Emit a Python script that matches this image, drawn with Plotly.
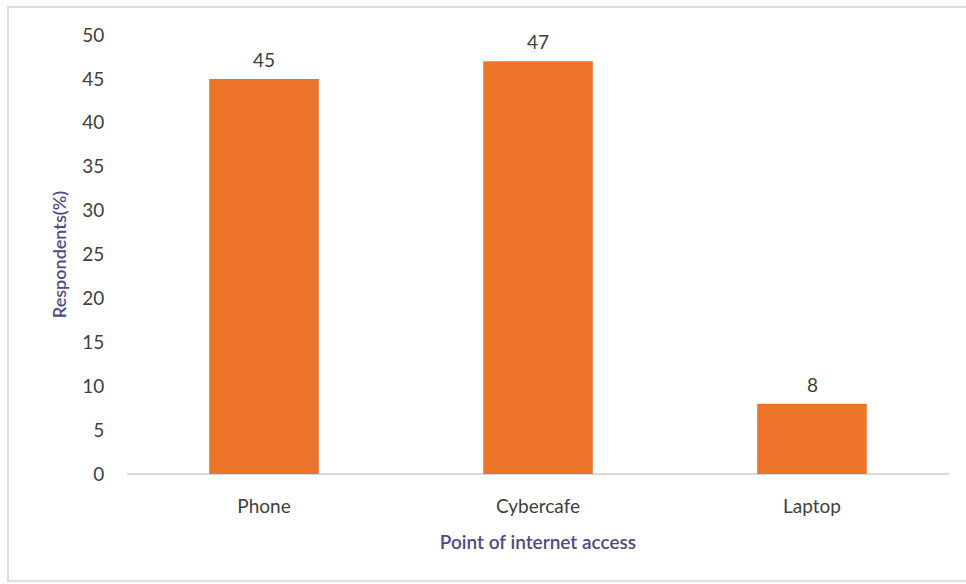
import plotly.graph_objects as go

categories = ["Phone", "Cybercafe", "Laptop"]
values = [45, 47, 8]
y_ticks = [0, 5, 10, 15, 20, 25, 30, 35, 40, 45, 50]

W, H = 966, 584
L, R, T, B = 127, 17, 35, 110
pw, ph = W - L - R, H - T - B

fig = go.Figure()
fig.add_trace(go.Bar(
    x=categories, y=values,
    marker=dict(color="#EC7429", line=dict(width=0)),
    cliponaxis=False,
    width=0.4,
))

annotations = [
    dict(x=c, y=v, xref="x", yref="y", text=str(v), showarrow=False,
         yanchor="bottom", yshift=6,
         font=dict(size=19, color="#404040", family="Lato"))
    for c, v in zip(categories, values)
]

fig.update_layout(
    width=W, height=H,
    margin=dict(l=L, r=R, t=T, b=B),
    paper_bgcolor="white", plot_bgcolor="white",
    font=dict(family="Lato", size=18, color="#333333"),
    showlegend=False,
    annotations=annotations,
    xaxis=dict(
        showgrid=False, showline=False, zeroline=False,
        tickfont=dict(size=19, color="#404040"),
        ticks="outside", ticklen=15, tickcolor="rgba(0,0,0,0)",
        title=dict(text="Point of internet access", standoff=19,
                   font=dict(size=19, color="#4B4B86", weight=600)),
        range=[-0.5, 2.5],
    ),
    yaxis=dict(
        range=[0, 50], tickvals=y_ticks,
        showgrid=False, showline=False,
        zeroline=True, zerolinecolor="#D9D9D9", zerolinewidth=1.5,
        tickfont=dict(size=19, color="#404040"),
        ticks="outside", ticklen=18, tickcolor="rgba(0,0,0,0)",
        title=dict(text="Respondents(%)", standoff=10,
                   font=dict(size=18, color="#4B4B86", weight=600)),
    ),
    shapes=[dict(type="rect", xref="paper", yref="paper",
                 x0=(8 - L) / pw, x1=(W + 2 - L) / pw,
                 y0=(H - 581 - B) / ph, y1=(H - 7 - B) / ph,
                 line=dict(color="#DCDDE6", width=2), fillcolor="rgba(0,0,0,0)",
                 layer="below")],
)

fig.write_html("out.html")
